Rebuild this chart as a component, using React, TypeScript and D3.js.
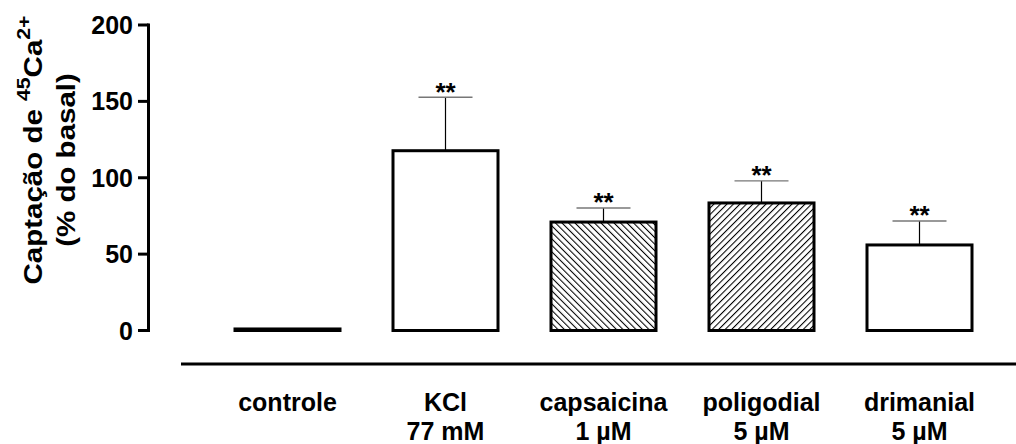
import React from "react";
import * as d3 from "d3";

const categories = ["controle", "KCl", "capsaicina", "poligodial", "drimanial"];
const subLabels = ["", "77 mM", "1 µM", "5 µM", "5 µM"];
const means = [1, 117.7, 71, 83.5, 56];
const sems = [0, 35, 9.2, 14.4, 15.7];
const fills = ["none", "none", "back", "fwd", "none"];
const stars = ["", "**", "**", "**", "**"];
const yTicks = [0, 50, 100, 150, 200];

const W = 1016;
const H = 444;
const FONT = "'Liberation Sans', Arial, sans-serif";

export default function App() {
  const x = d3.scalePoint<string>().domain(categories).range([287.5, 919.5]);
  const y = d3.scaleLinear().domain([0, 200]).range([330.5, 25]);
  const barW = 105;
  const capW = 54;

  return (
    <svg
      width={W}
      height={H}
      style={{ position: "absolute", left: 0, top: 0, background: "#fff" }}
      fontFamily={FONT}
    >
      <defs>
        <pattern id="hatchBack" patternUnits="userSpaceOnUse" width={4.6} height={10} patternTransform="rotate(-45)">
          <rect width={4.6} height={10} fill="#fff" />
          <line x1={0.5} y1={0} x2={0.5} y2={10} stroke="#000" strokeWidth={1.1} />
        </pattern>
        <pattern id="hatchFwd" patternUnits="userSpaceOnUse" width={4.6} height={10} patternTransform="rotate(45)">
          <rect width={4.6} height={10} fill="#fff" />
          <line x1={0.5} y1={0} x2={0.5} y2={10} stroke="#000" strokeWidth={1.1} />
        </pattern>
      </defs>

      {/* Y axis */}
      <line x1={148.5} x2={148.5} y1={y(200) - 1.5} y2={y(0) + 1.5} stroke="#000" strokeWidth={3} />
      {yTicks.map((t) => (
        <g key={t}>
          <line x1={138} x2={148.5} y1={y(t)} y2={y(t)} stroke="#000" strokeWidth={3} />
          <text x={133} y={y(t)} dy="0.36em" textAnchor="end" fontSize={25} fontWeight="bold">
            {t}
          </text>
        </g>
      ))}

      {/* Y title */}
      <text
        transform={`translate(42,150) rotate(-90) scale(1.18,1)`}
        textAnchor="middle"
        fontSize={25}
        fontWeight="bold"
      >
        Captação de <tspan fontSize={18} dy={-12}>45</tspan>
        <tspan dy={12}>Ca</tspan>
        <tspan fontSize={18} dy={-12}>2+</tspan>
      </text>
      <text
        transform={`translate(75,160) rotate(-90) scale(1.18,1)`}
        textAnchor="middle"
        fontSize={25}
        fontWeight="bold"
      >
        (% do basal)
      </text>

      {/* Bars */}
      {categories.map((c, i) => {
        const cx = x(c)!;
        const top = y(means[i]);
        const bottom = y(0);
        const fill = fills[i] === "back" ? "url(#hatchBack)" : fills[i] === "fwd" ? "url(#hatchFwd)" : "#fff";
        const errTop = y(means[i] + sems[i]);
        return (
          <g key={c}>
            {sems[i] > 0 && (
              <>
                <line x1={cx} x2={cx} y1={top} y2={errTop} stroke="#000" strokeWidth={1.2} />
                <line x1={cx - capW / 2} x2={cx + capW / 2} y1={errTop} y2={errTop} stroke="#777" strokeWidth={1.3} />
              </>
            )}
            <rect
              x={cx - barW / 2}
              y={top}
              width={barW}
              height={bottom - top}
              fill={fill}
              stroke="#000"
              strokeWidth={3}
            />
            {stars[i] && (
              <text x={cx} y={errTop + 3.5} textAnchor="middle" fontSize={26} fontWeight="bold">
                {stars[i]}
              </text>
            )}
          </g>
        );
      })}

      {/* Bottom line */}
      <line x1={181} x2={W} y1={364} y2={364} stroke="#000" strokeWidth={3} />

      {/* Category labels */}
      {categories.map((c, i) => (
        <text key={c} x={x(c)!} y={411} textAnchor="middle" fontSize={25} fontWeight="bold">
          <tspan x={x(c)!}>{c}</tspan>
          {subLabels[i] && (
            <tspan x={x(c)!} dy={29}>
              {subLabels[i]}
            </tspan>
          )}
        </text>
      ))}
    </svg>
  );
}
